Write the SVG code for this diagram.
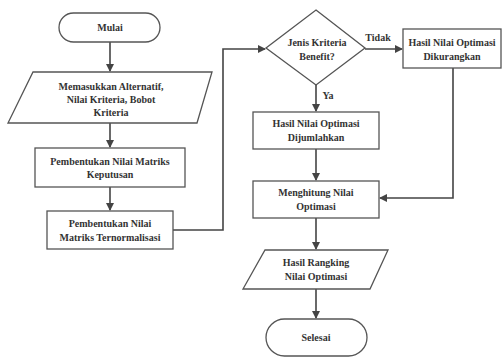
<svg xmlns="http://www.w3.org/2000/svg" width="503" height="357" viewBox="0 0 503 357">
<style>
.s{fill:#fff;stroke:#555;stroke-width:1.3}
.t{font-family:"Liberation Serif","Times New Roman",serif;font-weight:bold;font-size:10px;fill:#333;text-anchor:middle}
.c{fill:none;stroke:#444;stroke-width:1.6}
</style>
<defs>
<marker id="a" markerWidth="8" markerHeight="8" refX="7" refY="4" orient="auto" markerUnits="userSpaceOnUse">
<path d="M0,0 L8,4 L0,8 Z" fill="#444"/>
</marker>
</defs>
<rect width="503" height="357" fill="#fff"/>
<g id="edges">
<path class="c" d="M110,42 V71" marker-end="url(#a)"/>
<path class="c" d="M110,123 V147" marker-end="url(#a)"/>
<path class="c" d="M110,187 V210" marker-end="url(#a)"/>
<path class="c" d="M173,230 H223 V49 H265" marker-end="url(#a)"/>
<path class="c" d="M365,49 H402" marker-end="url(#a)"/>
<path class="c" d="M316,85 V111" marker-end="url(#a)"/>
<path class="c" d="M316,149 V180" marker-end="url(#a)"/>
<path class="c" d="M453,68 V198 H380" marker-end="url(#a)"/>
<path class="c" d="M316,218 V249" marker-end="url(#a)"/>
<path class="c" d="M316,289 V318" marker-end="url(#a)"/>
<text class="t" x="378" y="41">Tidak</text>
<text class="t" x="328" y="99">Ya</text>
</g>
<g id="mulai">
<rect class="s" x="59" y="13" width="101" height="29" rx="14.5"/>
<text class="t" x="110" y="31">Mulai</text>
</g>
<g id="input">
<polygon class="s" points="33,72 212,72 197,123 8,123"/>
<text class="t" x="111" y="90">Memasukkan Alternatif,</text>
<text class="t" x="111" y="103">Nilai Kriteria, Bobot</text>
<text class="t" x="111" y="116">Kriteria</text>
</g>
<g id="keputusan">
<rect class="s" x="35" y="148" width="150" height="39"/>
<text class="t" x="110" y="165">Pembentukan Nilai Matriks</text>
<text class="t" x="110" y="178">Keputusan</text>
</g>
<g id="normalisasi">
<rect class="s" x="47" y="211" width="126" height="38"/>
<text class="t" x="110" y="227">Pembentukan Nilai</text>
<text class="t" x="110" y="241">Matriks Ternormalisasi</text>
</g>
<g id="decision">
<polygon class="s" points="316,10 365,48 316,85 266,48"/>
<text class="t" x="317" y="46">Jenis Kriteria</text>
<text class="t" x="317" y="60">Benefit?</text>
</g>
<g id="dikurangkan">
<rect class="s" x="403" y="29" width="98" height="39"/>
<text class="t" x="452" y="46">Hasil Nilai Optimasi</text>
<text class="t" x="452" y="60">Dikurangkan</text>
</g>
<g id="dijumlahkan">
<rect class="s" x="253" y="112" width="126" height="37"/>
<text class="t" x="316" y="127">Hasil Nilai Optimasi</text>
<text class="t" x="316" y="141">Dijumlahkan</text>
</g>
<g id="menghitung">
<rect class="s" x="253" y="181" width="126" height="37"/>
<text class="t" x="316" y="196">Menghitung Nilai</text>
<text class="t" x="316" y="210">Optimasi</text>
</g>
<g id="ranking">
<polygon class="s" points="265,250 388,250 370,289 243,289"/>
<text class="t" x="316" y="266">Hasil Rangking</text>
<text class="t" x="316" y="280">Nilai Optimasi</text>
</g>
<g id="selesai">
<rect class="s" x="266" y="319" width="101" height="37" rx="18.5"/>
<text class="t" x="316" y="341">Selesai</text>
</g>
</svg>
